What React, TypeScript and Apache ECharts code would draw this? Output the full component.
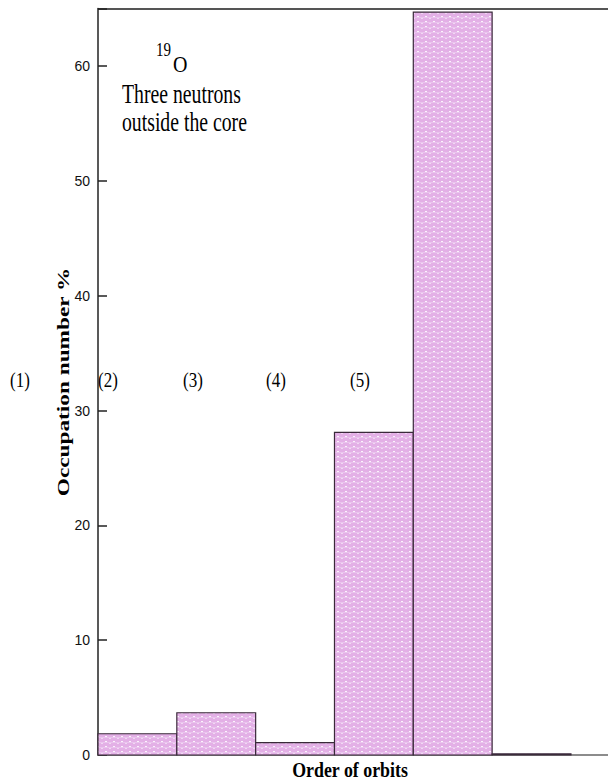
import React, { useEffect, useRef } from "react";
import * as echarts from "echarts";

// Orbit occupation of 19O (three neutrons outside the core)
const orbitStart = [0, 1, 2, 3, 4, 5];
const occupation = [1.85, 3.68, 1.07, 28.1, 64.7, 0.1];
const yTicks = [0, 10, 20, 30, 40, 50, 60];
const orbitTags = ["(1)", "(2)", "(3)", "(4)", "(5)"];
const orbitTagX = [20, 108, 193, 276, 360];

const SERIF = "'Liberation Serif', 'Times New Roman', serif";
const NARROW = "'Liberation Sans Narrow', 'Arial Narrow', 'Liberation Sans', sans-serif";

function makePattern(): HTMLCanvasElement {
  const c = document.createElement("canvas");
  c.width = 8;
  c.height = 5;
  const g = c.getContext("2d")!;
  g.fillStyle = "#e3b0e6";
  g.fillRect(0, 0, 8, 5);
  g.fillStyle = "#eac4ee";
  g.fillRect(0, 2, 8, 1);
  g.fillStyle = "rgba(255,255,255,0.85)";
  g.fillRect(1, 1, 2, 1);
  g.fillStyle = "rgba(255,255,255,0.5)";
  g.fillRect(5, 3, 2, 1);
  return c;
}

function textWidth(text: string, font: string): number {
  const c = document.createElement("canvas");
  const g = c.getContext("2d")!;
  g.font = font;
  return g.measureText(text).width;
}

export default function App() {
  const ref = useRef<HTMLDivElement>(null);
  useEffect(() => {
    if (!ref.current) return;
    const chart = echarts.init(ref.current, undefined, { renderer: "svg" });
    const pattern = makePattern();
    const data = orbitStart.map((s, i) => [s, s + 1, occupation[i]]);

    const yNameFont = `bold 16px ${SERIF}`;
    const yNameText = "Occupation number %";
    const yNameStretch = 229 / textWidth(yNameText, yNameFont);

    const xNameFont = `bold 16px ${SERIF}`;
    const xNameText = "Order of orbits";
    const xNameStretch = 116 / textWidth(xNameText, xNameFont);

    const noteFont = `19px ${SERIF}`;
    const noteStretch = 119 / textWidth("Three neutrons", noteFont);

    chart.setOption({
      animation: false,
      grid: {
        left: 98,
        right: 0,
        top: 8.6,
        bottom: 25,
        containLabel: false,
        outerBoundsMode: "none",
      },
      xAxis: {
        type: "value",
        min: 0,
        max: 6.47,
        axisLine: { show: true, lineStyle: { color: "#666", width: 1.5 } },
        axisTick: { show: false },
        axisLabel: { show: false },
        splitLine: { show: false },
      },
      yAxis: {
        type: "value",
        min: 0,
        max: 65,
        interval: 10,
        axisLine: { show: true, lineStyle: { color: "#222", width: 1.5 } },
        axisTick: { show: true, inside: true, length: 9, lineStyle: { color: "#222", width: 1.5 } },
        axisLabel: {
          fontFamily: NARROW,
          fontSize: 14,
          color: "#111",
          margin: 8,
          formatter: (v: number) => (yTicks.includes(v) ? String(v) : ""),
        },
        splitLine: { show: false },
      },
      series: [
        {
          type: "custom",
          data,
          renderItem: (params: any, api: any) => {
            const p0 = api.coord([api.value(0), api.value(2)]);
            const p1 = api.coord([api.value(1), 0]);
            return {
              type: "rect",
              shape: { x: p0[0], y: p0[1], width: p1[0] - p0[0], height: p1[1] - p0[1] },
              style: {
                fill: { image: pattern, repeat: "repeat" },
                stroke: "#3a2a3a",
                lineWidth: 1.2,
              },
            };
          },
        },
      ],
      graphic: [
        {
          type: "line",
          shape: { x1: 98, y1: 9, x2: 608, y2: 9 },
          style: { stroke: "#555", lineWidth: 2 },
        },
        {
          type: "text",
          x: 63,
          y: 382,
          rotation: Math.PI / 2,
          scaleX: yNameStretch,
          style: {
            text: yNameText,
            font: yNameFont,
            fill: "#000",
            align: "center",
            verticalAlign: "middle",
          },
        },
        {
          type: "text",
          x: 350,
          y: 770,
          scaleX: xNameStretch,
          scaleY: 1.3,
          style: {
            text: xNameText,
            font: xNameFont,
            fill: "#000",
            align: "center",
            verticalAlign: "middle",
          },
        },
        {
          type: "text",
          x: 156,
          y: 50,
          scaleY: 1.3,
          style: { text: "19", font: `15px ${SERIF}`, fill: "#000", verticalAlign: "middle" },
        },
        {
          type: "text",
          x: 173,
          y: 65,
          scaleY: 1.15,
          style: { text: "O", font: `20px ${SERIF}`, fill: "#000", verticalAlign: "middle" },
        },
        {
          type: "text",
          x: 122,
          y: 94,
          scaleX: noteStretch,
          scaleY: 1.4,
          style: { text: "Three neutrons", font: noteFont, fill: "#000", verticalAlign: "middle" },
        },
        {
          type: "text",
          x: 122,
          y: 122,
          scaleX: noteStretch,
          scaleY: 1.4,
          style: { text: "outside the core", font: noteFont, fill: "#000", verticalAlign: "middle" },
        },
        ...orbitTags.map((t, i) => ({
          type: "text",
          x: orbitTagX[i],
          y: 380,
          scaleY: 1.2,
          style: {
            text: t,
            font: `17px ${SERIF}`,
            fill: "#000",
            align: "center",
            verticalAlign: "middle",
          },
        })),
      ],
    });
    return () => chart.dispose();
  }, []);
  return (
    <div
      ref={ref}
      style={{ position: "fixed", left: 0, top: 0, width: 608, height: 780, background: "#fff" }}
    />
  );
}
